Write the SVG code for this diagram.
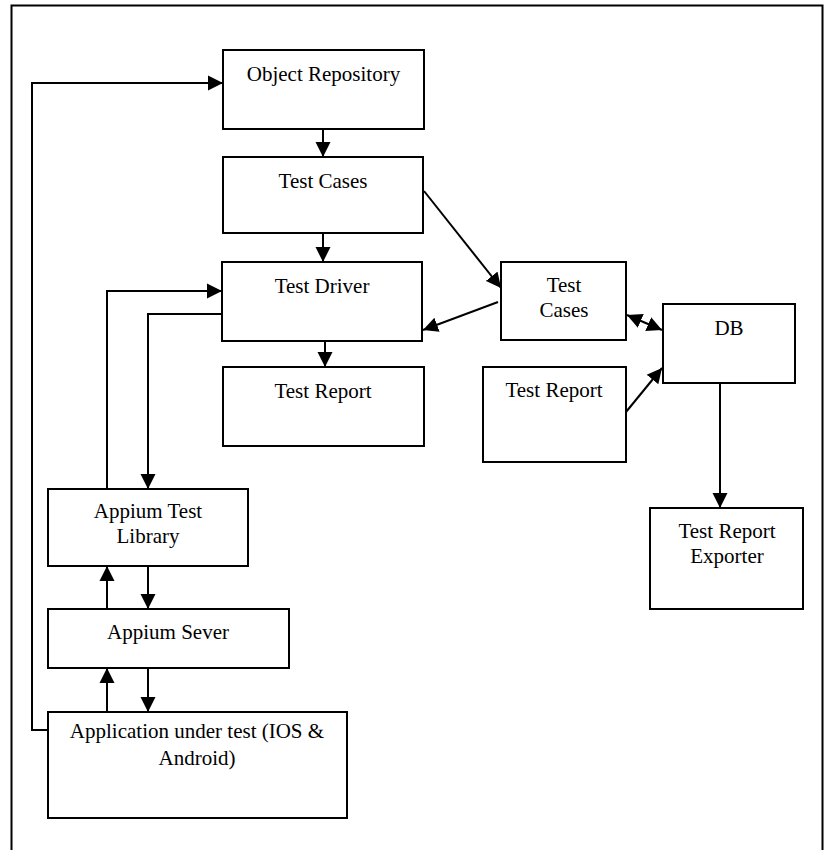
<svg xmlns="http://www.w3.org/2000/svg" width="826" height="850" viewBox="0 0 826 850">
<style>
.box{fill:#fff;stroke:#000;stroke-width:2}
.lbl{font-family:"Liberation Serif","Times New Roman",serif;font-size:21px;fill:#000;text-anchor:middle}
.con{fill:none;stroke:#000;stroke-width:2}
.arr{marker-end:url(#ah)}
.both{marker-start:url(#ahs);marker-end:url(#ah)}
</style>
<defs>
<marker id="ah" markerUnits="userSpaceOnUse" markerWidth="16" markerHeight="16" viewBox="0 0 16 16" refX="15" refY="8" orient="auto">
<path d="M0,0.5 L15,8 L0,15.5 Z" fill="#000"/>
</marker>
<marker id="ahs" markerUnits="userSpaceOnUse" markerWidth="16" markerHeight="16" viewBox="0 0 16 16" refX="1" refY="8" orient="auto">
<path d="M16,0.5 L1,8 L16,15.5 Z" fill="#000"/>
</marker>
</defs>
<rect width="826" height="850" fill="#fff"/>
<path d="M11.5,850 V5.5 H822.5 V850" fill="none" stroke="#000" stroke-width="2"/>

<g id="connectors">
<path class="con arr" d="M48,730 H32 V83 H223"/>
<path class="con arr" d="M323,129 V157"/>
<path class="con arr" d="M323,233 V262"/>
<path class="con arr" d="M325,341 V367"/>
<path class="con arr" d="M424,191 L501,288"/>
<path class="con arr" d="M498,302 L423,330"/>
<path class="con both" d="M627,315 L662,330"/>
<path class="con arr" d="M626,412 L662,368"/>
<path class="con arr" d="M720,383 V508"/>
<path class="con arr" d="M107,489 V291 H222"/>
<path class="con arr" d="M222,314 H148 V489"/>
<path class="con arr" d="M107,609 V566"/>
<path class="con arr" d="M148,566 V609"/>
<path class="con arr" d="M107,712 V668"/>
<path class="con arr" d="M148,668 V712"/>
</g>

<g id="object-repository">
<rect class="box" x="223" y="50" width="201" height="79"/>
<text class="lbl" x="323.5" y="81">Object Repository</text>
</g>
<g id="test-cases-1">
<rect class="box" x="223" y="157" width="200" height="76"/>
<text class="lbl" x="323" y="188">Test Cases</text>
</g>
<g id="test-driver">
<rect class="box" x="222" y="262" width="200" height="79"/>
<text class="lbl" x="322" y="293">Test Driver</text>
</g>
<g id="test-report-1">
<rect class="box" x="223" y="367" width="201" height="79"/>
<text class="lbl" x="323" y="398">Test Report</text>
</g>
<g id="test-cases-2">
<rect class="box" x="501" y="262" width="125" height="78"/>
<text class="lbl" x="564" y="292">Test</text>
<text class="lbl" x="564" y="317">Cases</text>
</g>
<g id="db">
<rect class="box" x="663" y="304" width="132" height="79"/>
<text class="lbl" x="729" y="335">DB</text>
</g>
<g id="test-report-2">
<rect class="box" x="483" y="367" width="143" height="95"/>
<text class="lbl" x="554" y="397">Test Report</text>
</g>
<g id="test-report-exporter">
<rect class="box" x="650" y="508" width="153" height="101"/>
<text class="lbl" x="727" y="538">Test Report</text>
<text class="lbl" x="727" y="563">Exporter</text>
</g>
<g id="appium-test-library">
<rect class="box" x="48" y="489" width="200" height="77"/>
<text class="lbl" x="148" y="518">Appium Test</text>
<text class="lbl" x="148" y="543">Library</text>
</g>
<g id="appium-sever">
<rect class="box" x="48" y="609" width="241" height="59"/>
<text class="lbl" x="168" y="639">Appium Sever</text>
</g>
<g id="application-under-test">
<rect class="box" x="48" y="712" width="299" height="106"/>
<text class="lbl" x="197" y="738">Application under test (IOS &amp;</text>
<text class="lbl" x="197" y="765">Android)</text>
</g>
</svg>
